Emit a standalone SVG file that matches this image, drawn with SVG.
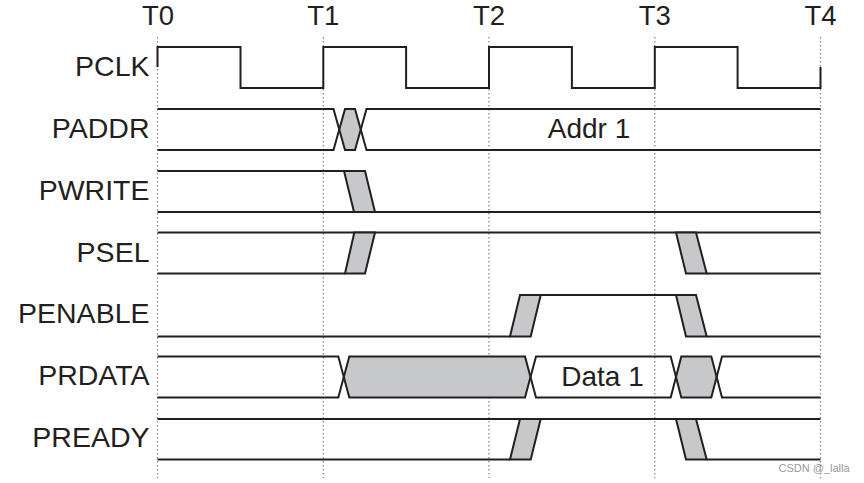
<svg xmlns="http://www.w3.org/2000/svg" width="864" height="483" viewBox="0 0 864 483">
<style>
.lbl{font-family:"Liberation Sans",Arial,sans-serif;font-size:28.5px;fill:#231f20;text-anchor:end}
.tl{font-family:"Liberation Sans",Arial,sans-serif;font-size:27.5px;fill:#231f20;text-anchor:middle}
.val{font-family:"Liberation Sans",Arial,sans-serif;font-size:28px;fill:#231f20;text-anchor:middle}
.sig{fill:none;stroke:#231f20;stroke-width:2;stroke-linejoin:miter}
.gr{fill:#c7c8ca;stroke:#231f20;stroke-width:2;stroke-linejoin:miter}
.grf{fill:#c7c8ca;stroke:none}
.grid{stroke:#8a8a8a;stroke-width:1.3;stroke-dasharray:1.5 2.5;fill:none}
.wm{font-family:"Liberation Sans",Arial,sans-serif;font-size:11px;fill:#9a9a9a}
</style>
<rect width="864" height="483" fill="#ffffff"/>
<g id="grid">
<line class="grid" x1="157.5" y1="37" x2="157.5" y2="478"/>
<line class="grid" x1="323.3" y1="37" x2="323.3" y2="478"/>
<line class="grid" x1="489" y1="37" x2="489" y2="478"/>
<line class="grid" x1="654.8" y1="37" x2="654.8" y2="478"/>
<line class="grid" x1="820.5" y1="37" x2="820.5" y2="478"/>
</g>
<g id="time-labels">
<text class="tl" x="158" y="25">T0</text>
<text class="tl" x="323.3" y="25">T1</text>
<text class="tl" x="489" y="25">T2</text>
<text class="tl" x="654.8" y="25">T3</text>
<text class="tl" x="820.5" y="25">T4</text>
</g>
<g id="PCLK">
<text class="lbl" x="149.5" y="76">PCLK</text>
<path class="sig" d="M157.5,67 V47 H240.5 V88 H323.3 V47 H406.1 V88 H489 V47 H571.9 V88 H654.8 V47 H737.6 V88 H820.5 V67"/>
</g>
<g id="PADDR">
<text class="lbl" x="149.5" y="138.3">PADDR</text>
<polygon class="grf" points="339.25,129.5 345,109 355,109 360.75,129.5 355,150 345,150"/>
<path class="sig" d="M157.5,109 H333.5 L345,150 H355 L366.5,109 H820.5"/>
<path class="sig" d="M157.5,150 H333.5 L345,109 H355 L366.5,150 H820.5"/>
<text class="val" x="589" y="137.5">Addr 1</text>
</g>
<g id="PWRITE">
<text class="lbl" x="149.5" y="200">PWRITE</text>
<path class="sig" d="M157.5,171 H344"/>
<path class="sig" d="M157.5,212 H820.5"/>
<polygon class="gr" points="344,171 365,171 375,212 354,212"/>
</g>
<g id="PSEL">
<text class="lbl" x="149.5" y="261.7">PSEL</text>
<path class="sig" d="M157.5,232.5 H820.5"/>
<path class="sig" d="M157.5,273.5 H345"/>
<path class="sig" d="M706.7,273.5 H820.5"/>
<polygon class="gr" points="354.3,232.5 375,232.5 365,273.5 345,273.5"/>
<polygon class="gr" points="676,232.5 696,232.5 706.7,273.5 686,273.5"/>
</g>
<g id="PENABLE">
<text class="lbl" x="149.5" y="323.3">PENABLE</text>
<path class="sig" d="M157.5,336.5 H510"/>
<path class="sig" d="M540.7,295 H676"/>
<path class="sig" d="M706.7,336.5 H820.5"/>
<polygon class="gr" points="510,336.5 530.7,336.5 540.7,295 520,295"/>
<polygon class="gr" points="676,295 696,295 706.7,336.5 686,336.5"/>
</g>
<g id="PRDATA">
<text class="lbl" x="149.5" y="385">PRDATA</text>
<polygon class="grf" points="343.8,377 349.3,356.5 525,356.5 530.5,377 525,397.5 349.3,397.5"/>
<polygon class="grf" points="676,377 681.3,356.5 711.3,356.5 716.7,377 711.3,397.5 681.3,397.5"/>
<path class="sig" d="M157.5,356.5 H338.3 L349.3,397.5 H525 L536,356.5 H670.7 L681.3,397.5 H711.3 L722,356.5 H820.5"/>
<path class="sig" d="M157.5,397.5 H338.3 L349.3,356.5 H525 L536,397.5 H670.7 L681.3,356.5 H711.3 L722,397.5 H820.5"/>
<text class="val" x="602.5" y="385.7">Data 1</text>
</g>
<g id="PREADY">
<text class="lbl" x="149.5" y="446.7">PREADY</text>
<path class="sig" d="M157.5,419 H820.5"/>
<path class="sig" d="M157.5,459.5 H510"/>
<path class="sig" d="M706.7,459.5 H820.5"/>
<polygon class="gr" points="510,459.5 530.7,459.5 540.7,419 520,419"/>
<polygon class="gr" points="676,419 696,419 706.7,459.5 686,459.5"/>
</g>
<g id="connectors"></g>
<text class="wm" x="778.5" y="471.5">CSDN @_lalla</text>
</svg>
